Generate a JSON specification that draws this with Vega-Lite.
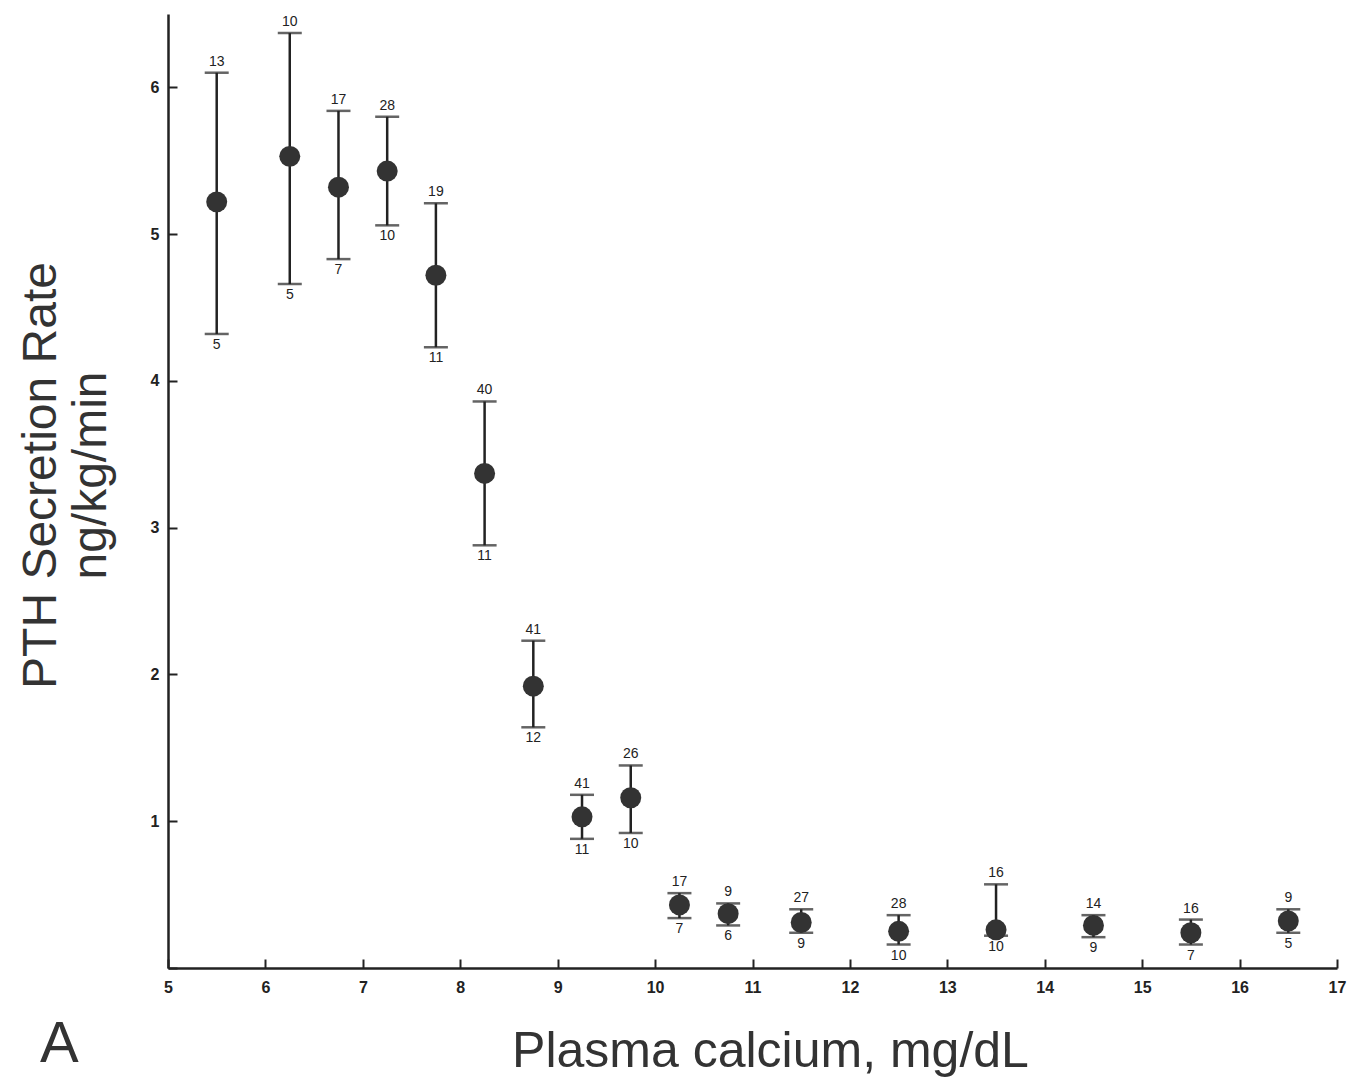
{
  "$schema": "https://vega.github.io/schema/vega-lite/v6.json",
  "width": 1169,
  "height": 954,
  "autosize": "none",
  "padding": {"left": 168, "top": 14, "right": 15, "bottom": 110},
  "background": "white",
  "config": {
    "view": {"stroke": null},
    "axis": {"grid": false, "domainColor": "#222", "tickColor": "#222", "labelColor": "#222", "titleColor": "#333", "domainWidth": 2.5, "tickWidth": 2}
  },
  "title": {"text": "A", "orient": "bottom", "anchor": "start", "frame": "group", "font": "Liberation Sans", "fontSize": 58, "fontWeight": "normal", "color": "#333", "dx": -128, "offset": -60},
  "data": {
    "values": [
      {"ca": 5.5, "pth": 5.22, "hi": 6.10, "lo": 4.32, "n_hi": "13", "n_lo": "5"},
      {"ca": 6.25, "pth": 5.53, "hi": 6.37, "lo": 4.66, "n_hi": "10", "n_lo": "5"},
      {"ca": 6.75, "pth": 5.32, "hi": 5.84, "lo": 4.83, "n_hi": "17", "n_lo": "7"},
      {"ca": 7.25, "pth": 5.43, "hi": 5.80, "lo": 5.06, "n_hi": "28", "n_lo": "10"},
      {"ca": 7.75, "pth": 4.72, "hi": 5.21, "lo": 4.23, "n_hi": "19", "n_lo": "11"},
      {"ca": 8.25, "pth": 3.37, "hi": 3.86, "lo": 2.88, "n_hi": "40", "n_lo": "11"},
      {"ca": 8.75, "pth": 1.92, "hi": 2.23, "lo": 1.64, "n_hi": "41", "n_lo": "12"},
      {"ca": 9.25, "pth": 1.03, "hi": 1.18, "lo": 0.88, "n_hi": "41", "n_lo": "11"},
      {"ca": 9.75, "pth": 1.16, "hi": 1.38, "lo": 0.92, "n_hi": "26", "n_lo": "10"},
      {"ca": 10.25, "pth": 0.43, "hi": 0.51, "lo": 0.34, "n_hi": "17", "n_lo": "7"},
      {"ca": 10.75, "pth": 0.37, "hi": 0.44, "lo": 0.29, "n_hi": "9", "n_lo": "6"},
      {"ca": 11.5, "pth": 0.31, "hi": 0.40, "lo": 0.24, "n_hi": "27", "n_lo": "9"},
      {"ca": 12.5, "pth": 0.25, "hi": 0.36, "lo": 0.16, "n_hi": "28", "n_lo": "10"},
      {"ca": 13.5, "pth": 0.26, "hi": 0.57, "lo": 0.22, "n_hi": "16", "n_lo": "10"},
      {"ca": 14.5, "pth": 0.29, "hi": 0.36, "lo": 0.21, "n_hi": "14", "n_lo": "9"},
      {"ca": 15.5, "pth": 0.24, "hi": 0.33, "lo": 0.16, "n_hi": "16", "n_lo": "7"},
      {"ca": 16.5, "pth": 0.32, "hi": 0.40, "lo": 0.24, "n_hi": "9", "n_lo": "5"}
    ]
  },
  "encoding": {
    "x": {
      "field": "ca", "type": "quantitative",
      "scale": {"domain": [5, 17], "nice": false, "zero": false},
      "axis": {
        "title": "Plasma calcium, mg/dL",
        "values": [5, 5.5, 6, 6.5, 7, 7.5, 8, 8.5, 9, 9.5, 10, 10.5, 11, 11.5, 12, 12.5, 13, 13.5, 14, 14.5, 15, 15.5, 16, 16.5, 17],
        "format": "d",
        "labelExpr": "datum.value % 1 === 0 ? format(datum.value, 'd') : ''",
        "tickSize": -9,
        "labelPadding": 20,
        "labelFont": "Liberation Sans", "labelFontSize": 16, "labelFontWeight": "bold",
        "labelFlush": false,
        "titleFont": "Liberation Sans", "titleFontSize": 50, "titleFontWeight": "normal",
        "titleX": 602, "titleY": 98, "titleBaseline": "alphabetic", "titleAlign": "center"
      }
    }
  },
  "layer": [
    {
      "mark": {"type": "rule", "strokeWidth": 2.5, "color": "#222"},
      "encoding": {
        "y": {
          "field": "lo", "type": "quantitative",
          "scale": {"domain": [0, 6.5], "nice": false},
          "axis": {
            "title": ["PTH Secretion Rate", "ng/kg/min"],
            "values": [0, 0.5, 1, 1.5, 2, 2.5, 3, 3.5, 4, 4.5, 5, 5.5, 6, 6.5],
            "format": "d",
            "labelExpr": "datum.value % 1 === 0 && datum.value > 0 ? format(datum.value, 'd') : ''",
            "tickSize": -9,
            "labelPadding": 18,
            "labelFont": "Liberation Sans", "labelFontSize": 16, "labelFontWeight": "bold",
            "labelFlush": false,
            "titleFont": "Liberation Sans", "titleFontSize": 48, "titleFontWeight": "normal",
            "titleAngle": -90, "titleAlign": "center", "titleBaseline": "alphabetic",
            "titleLineHeight": 50,
            "titleX": -113, "titleY": 461
          }
        },
        "y2": {"field": "hi"}
      }
    },
    {
      "mark": {"type": "tick", "orient": "horizontal", "size": 24, "thickness": 2.5, "color": "#222"},
      "encoding": {"y": {"field": "hi", "type": "quantitative"}}
    },
    {
      "mark": {"type": "tick", "orient": "horizontal", "size": 24, "thickness": 2.5, "color": "#222"},
      "encoding": {"y": {"field": "lo", "type": "quantitative"}}
    },
    {
      "mark": {"type": "point", "filled": true, "shape": "circle", "size": 440, "color": "#333", "opacity": 1},
      "encoding": {"y": {"field": "pth", "type": "quantitative"}}
    },
    {
      "mark": {"type": "text", "font": "Liberation Sans", "fontSize": 14, "baseline": "bottom", "dy": -4, "color": "#222"},
      "encoding": {"y": {"field": "hi", "type": "quantitative"}, "text": {"field": "n_hi"}}
    },
    {
      "mark": {"type": "text", "font": "Liberation Sans", "fontSize": 14, "baseline": "top", "dy": 4, "color": "#222"},
      "encoding": {"y": {"field": "lo", "type": "quantitative"}, "text": {"field": "n_lo"}}
    }
  ]
}
